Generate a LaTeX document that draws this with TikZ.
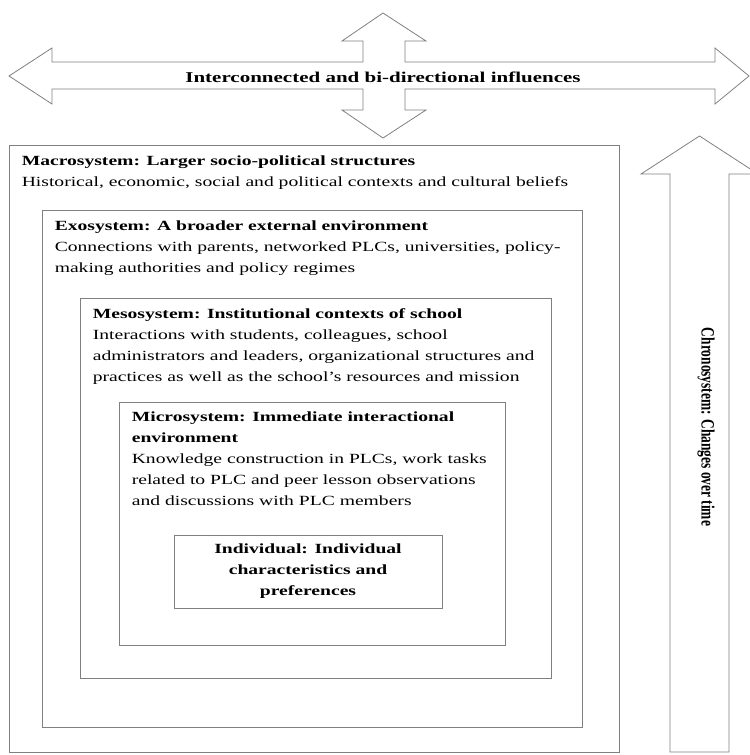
\documentclass[tikz,border=0pt]{standalone}
\usepackage{fontspec}
\setmainfont[FakeStretch=1.4]{Liberation Serif}
\newfontfamily\chronofont[FakeStretch=0.714]{Liberation Serif}
\usetikzlibrary{positioning}
\definecolor{edge}{gray}{0.5}

\begin{document}
\begin{tikzpicture}[x=1bp,y=-1bp,
sysbox/.style={draw=edge,line width=0.8bp,inner sep=0pt},
systext/.style={anchor=north west,inner sep=0pt,align=left,
font=\fontsize{14bp}{21bp}\selectfont},
bigarrow/.style={draw=edge,line width=0.8bp,fill=white}]
\useasboundingbox (0,0) rectangle (750,755);
% four-way arrow at the top
\draw[bigarrow] (9,76)--(52,48)--(52,62)--(363,62)--(363,41)--(342,41)
--(383,13)--(426,41)--(405,41)--(405,62)--(715,62)--(715,48)--(749,76)
--(715,104)--(715,89)--(405,89)--(405,110)--(426,110)--(383,138)
--(342,110)--(363,110)--(363,89)--(52,89)--(52,104)--cycle;
\node[font=\fontsize{15bp}{18bp}\selectfont\bfseries] (influence) at (383,77)
{Interconnected and bi-directional influences};
% time arrow on the right
\draw[bigarrow] (670,752)--(670,174)--(641,174)--(699.5,136)--(758,174)
--(729,174)--(729,752)--cycle;
\node[rotate=-90,font=\chronofont\fontsize{18.8bp}{20bp}\selectfont\bfseries]
(chrono) at (706,427) {Chronosystem: Changes over time};
% nested systems
\node[sysbox,minimum width=610bp,minimum height=607bp] (macro) at (314,448.5) {};
\node[sysbox,minimum width=540bp,minimum height=517bp] (exo) at (312,468.5) {};
\node[sysbox,minimum width=471bp,minimum height=380bp] (meso) at (315.5,488) {};
\node[sysbox,minimum width=386bp,minimum height=243bp] (micro) at (312,523.5) {};
\node[sysbox,minimum width=268bp,minimum height=73bp] (indiv) at (308,571.5) {};
\node[systext] (macrotext) at ([shift={(13,10.5)}]macro.north west)
{\textbf{Macrosystem: Larger socio-political structures}\\
Historical, economic, social and political contexts and cultural beliefs};
\node[systext] (exotext) at ([shift={(13,10.5)}]exo.north west)
{\textbf{Exosystem: A broader external environment}\\
Connections with parents, networked PLCs, universities, policy-\\
making authorities and policy regimes};
\node[systext] (mesotext) at ([shift={(13,10.5)}]meso.north west)
{\textbf{Mesosystem: Institutional contexts of school}\\
Interactions with students, colleagues, school\\
administrators and leaders, organizational structures and\\
practices as well as the school's resources and mission};
\node[systext] (microtext) at ([shift={(13,10)}]micro.north west)
{\textbf{Microsystem: Immediate interactional}\\
\textbf{environment}\\
Knowledge construction in PLCs, work tasks\\
related to PLC and peer lesson observations\\
and discussions with PLC members};
\node[align=center,inner sep=0pt,font=\fontsize{14bp}{21bp}\selectfont\bfseries]
(indivtext) at (indiv.center) {Individual: Individual\\characteristics and\\preferences};
\end{tikzpicture}
\end{document}
